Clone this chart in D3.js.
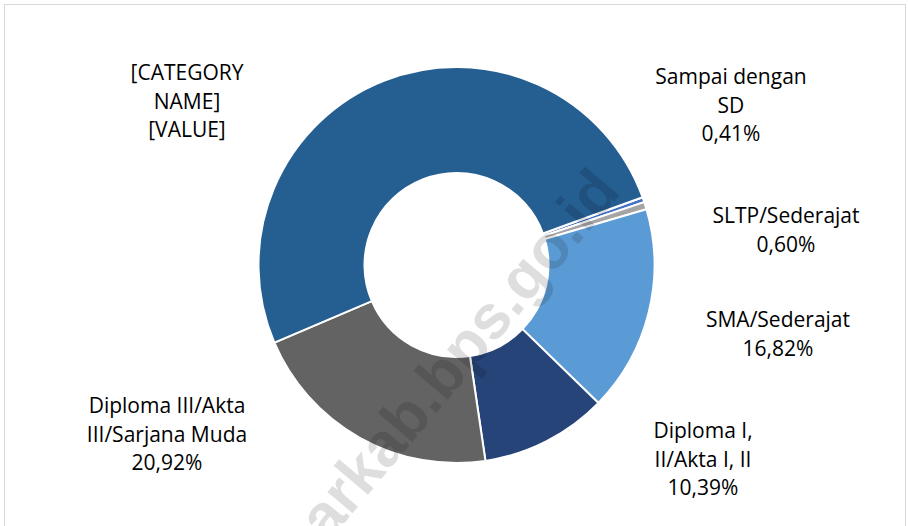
<!DOCTYPE html>
<html>
<head>
<meta charset="utf-8">
<script src="https://cdn.jsdelivr.net/npm/d3@7"></script>
<style>
  html, body { margin: 0; padding: 0; background: #fff; }
  svg { display: block; }
  .lbl { font-family: "Open Sans", sans-serif; font-size: 21px; fill: #000; }
  .wm { font-family: "Liberation Sans", Arial, sans-serif; font-weight: bold; font-size: 62px; fill: #000; fill-opacity: 0.13; }
</style>
</head>
<body>
<div id="chart"></div>
<script>
const categories = [
  "Sampai dengan SD",
  "SLTP/Sederajat",
  "SMA/Sederajat",
  "Diploma I, II/Akta I, II",
  "Diploma III/Akta III/Sarjana Muda",
  "Diploma IV/S1/S2/S3"
];
const values = [0.41, 0.60, 16.82, 10.39, 20.92, 50.86];
// text of the data labels as it is wrapped in the picture
const labelLines = [
  ["Sampai dengan", "SD"],
  ["SLTP/Sederajat"],
  ["SMA/Sederajat"],
  ["Diploma I,", "II/Akta I, II"],
  ["Diploma III/Akta", "III/Sarjana Muda"],
  ["[CATEGORY", "NAME]"]
];
const valueTexts = [null, null, null, null, null, "[VALUE]"];
const colors = ["#4472C4", "#A5A5A5", "#5B9BD5", "#264478", "#636363", "#255E91"];

// label anchors (centre x, first baseline)
const labelPos = [[731, 84], [786, 223], [778, 327], [703, 438], [167, 413], [187, 80]];

const width = 908;
const height = 526;
const cx = 456.5, cy = 265;
const outerR = 198, innerR = 92;
const lineH = 28.5;

const fmt = v => d3.format(".2f")(v).replace(".", ",") + "%";

const svg = d3.select("#chart").append("svg")
  .attr("width", width)
  .attr("height", height);

// chart frame
svg.append("rect")
  .attr("x", 4.5)
  .attr("y", 4.5)
  .attr("width", 901)
  .attr("height", 600)
  .attr("fill", "none")
  .attr("stroke", "#d9d9d9")
  .attr("stroke-width", 1);

const data = categories.map((c, i) => ({ category: c, value: values[i], i }));

const start = 70 * Math.PI / 180;
const pie = d3.pie()
  .sort(null)
  .value(d => d.value)
  .startAngle(start)
  .endAngle(start + 2 * Math.PI);

const arc = d3.arc().innerRadius(innerR).outerRadius(outerR);

const g = svg.append("g").attr("transform", `translate(${cx},${cy})`);

g.selectAll("path")
  .data(pie(data))
  .join("path")
  .attr("d", arc)
  .attr("fill", d => colors[d.data.i])
  .attr("stroke", "#fff")
  .attr("stroke-width", 2)
  .attr("stroke-linejoin", "miter");

// labels
data.forEach((d, i) => {
  const lines = labelLines[i].concat([valueTexts[i] || fmt(d.value)]);
  const t = svg.append("text")
    .attr("class", "lbl")
    .attr("text-anchor", "middle");
  lines.forEach((s, k) => {
    t.append("tspan")
      .attr("x", labelPos[i][0])
      .attr("y", labelPos[i][1] + k * lineH)
      .text(s);
  });
});

// watermark (runs off the bottom edge, as in the reference)
svg.append("text")
  .attr("class", "wm")
  .attr("text-anchor", "end")
  .attr("transform", "translate(622,192) rotate(-50)")
  .text("barkab.bps.go.id");
</script>
</body>
</html>
